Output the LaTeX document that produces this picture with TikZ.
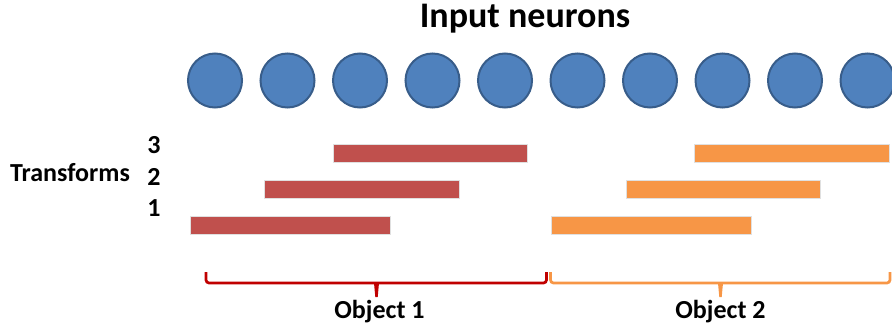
\documentclass[tikz,border=0pt]{standalone}
\usepackage{fontspec}
\setmainfont{Carlito}
\usepackage{xcolor}
\usepackage{tikz}
\usetikzlibrary{calc}

\definecolor{neuronfill}{HTML}{4F81BD}
\definecolor{neuronline}{HTML}{385D8A}
\definecolor{objred}{HTML}{C0504D}
\definecolor{objorange}{HTML}{F79646}
\definecolor{bracered}{HTML}{C00000}

\begin{document}
\begin{tikzpicture}[x=1pt,y=-1pt,font=\bfseries\fontsize{26}{30}\selectfont]
    \tikzstyle{neuron}=[draw=neuronline,fill=neuronfill,circle,line width=2pt,minimum size=54pt,inner sep=0pt]
    \tikzstyle{bar}=[draw=black!12,line width=0.5pt,minimum height=18pt,inner sep=0pt,anchor=west]
    \tikzstyle{lbl}=[anchor=base,inner sep=0pt]
    \tikzstyle{brace}=[line width=2.7pt,rounded corners=3pt]

    \clip (0,0) rectangle (892,329);
    \useasboundingbox (0,0) rectangle (892,329);

    \node[lbl,font=\bfseries\fontsize{36}{40}\selectfont] (title) at (525,28) {Input neurons};

    % row of input neurons
    \foreach \i in {0,...,9}
      \node[neuron] (n\i) at (215+72.5*\i, 80.5) {};

    \node[lbl,anchor=base west] (tf) at (10,181) {Transforms};
    \node[lbl] (t3) at (154,153) {3};
    \node[lbl] (t2) at (154,185) {2};
    \node[lbl] (t1) at (154,216) {1};

    % shifted copies of each object
    \node[bar,fill=objred,minimum width=200pt] (r1) at (190,225) {};
    \node[bar,fill=objred,minimum width=195pt] (r2) at (264,189) {};
    \node[bar,fill=objred,minimum width=194pt] (r3) at (333,153) {};
    \node[bar,fill=objorange,minimum width=200pt] (o1) at (551,225) {};
    \node[bar,fill=objorange,minimum width=194pt] (o2) at (626,189) {};
    \node[bar,fill=objorange,minimum width=195pt] (o3) at (694,153) {};

    % braces under the objects
    \coordinate (b1l) at (206,272);
    \coordinate (b1r) at (546.5,272);
    \coordinate (b1m) at (376.5,283);
    \coordinate (b2l) at (550.5,272);
    \coordinate (b2r) at (890,272);
    \coordinate (b2m) at (720.5,283);

    \draw[brace,bracered] (b1l) |- (b1m) -| (b1r);
    \fill[bracered] ($(b1m)+(-2.5,0)$) -- ($(b1m)+(-1.2,14)$) -- ($(b1m)+(1.2,14)$) -- ($(b1m)+(2.5,0)$) -- cycle;
    \draw[brace,objorange] (b2l) |- (b2m) -| (b2r);
    \fill[objorange] ($(b2m)+(-2.5,0)$) -- ($(b2m)+(-1.2,14)$) -- ($(b2m)+(1.2,14)$) -- ($(b2m)+(2.5,0)$) -- cycle;

    \node[lbl] (obj1) at (379.5,318) {Object 1};
    \node[lbl] (obj2) at (720.5,318) {Object 2};
  \end{tikzpicture}
\end{document}
